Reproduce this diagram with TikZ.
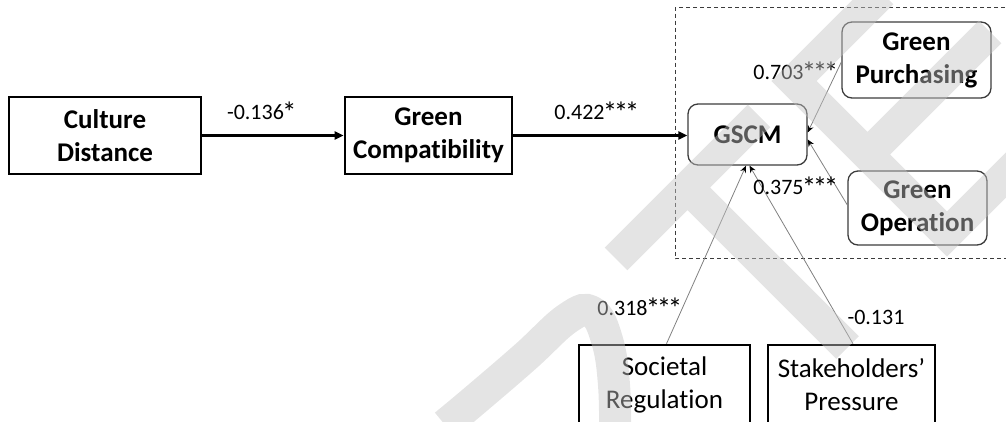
\documentclass[tikz,border=0pt]{standalone}
\usepackage{fontspec}
\setmainfont{Carlito}[Ligatures=NoCommon]
\usetikzlibrary{arrows.meta}
\definecolor{wmark}{RGB}{196,196,196}
\definecolor{rimgray}{RGB}{60,60,60}
\newcommand\boxfont{\fontsize{27}{33}\selectfont}
\newcommand\labfont{\fontsize{22}{26}\selectfont}
% significance star, drawn a little larger than the text asterisk
\newcommand\sig{\makebox[11pt]{\fontsize{29}{29}\selectfont\raisebox{-3pt}{*}}}
\begin{document}
\begin{tikzpicture}[x=1pt,y=-1pt,
  thickbox/.style={draw=black, line width=2.6pt, inner sep=0pt, align=center, font=\boxfont},
  boldbox/.style={thickbox, font=\boxfont\bfseries},
  roundbox/.style={draw=rimgray, line width=1.3pt, rounded corners=10pt, inner sep=0pt,
    align=center, font=\boxfont\bfseries},
  lab/.style={font=\labfont, inner sep=0pt},
  mainarrow/.style={line width=2.6pt, -{Triangle[length=9pt,width=8pt]}},
  thinarrow/.style={draw=black!50, line width=0.8pt, -{Stealth[length=7pt,width=6pt,black]}},
  groupframe/.style={draw=rimgray, line width=0.9pt, dash pattern=on 4pt off 3pt},
  watermark/.style={draw=wmark, draw opacity=0.45, line width=32pt, line cap=butt, line join=miter}]
\useasboundingbox (0,0) rectangle (1006,421);
\clip (0,0) rectangle (1006,421);

% frame around the GSCM construct
\draw[groupframe] (1012,7.5) -- (675,7.5) -- (675,258.5) -- (1012,258.5);

% constructs
\node[boldbox, minimum width=192pt, minimum height=77pt] (cd) at (105,135.5) {Culture\\Distance};
\node[boldbox, minimum width=167pt, minimum height=77pt] (gc) at (428.5,135.5) {Green\\Compatibility};
\node[roundbox, minimum width=119pt, minimum height=61pt] (gscm) at (747.5,134.5) {GSCM};
\node[roundbox, minimum width=149pt, minimum height=76pt] (gp) at (916.5,60) {Green\\Purchasing};
\node[roundbox, minimum width=139pt, minimum height=74pt] (go) at (917.5,208) {Green\\Operation};
\node[thickbox, minimum width=171pt, minimum height=80pt] (sr) at (664.5,385) {Societal\\Regulation};
\node[thickbox, minimum width=167pt, minimum height=80pt] (sp) at (851.5,385) {Stakeholders’\\Pressure};

% paths
\draw[mainarrow] (cd.east) -- (gc.west);
\draw[mainarrow] (gc.east) -- (gc.east -| gscm.west);
\draw[thinarrow] ([yshift=-2pt]gp.west) -- ([yshift=2pt]gscm.east);
\draw[thinarrow] ([yshift=3pt]go.west) -- ([yshift=-5pt]gscm.east);
\draw[thinarrow] ([xshift=2pt]sr.north) -- ([xshift=-1.5pt]gscm.south);
\draw[thinarrow] ([xshift=1.5pt]sp.north) -- ([xshift=2pt]gscm.south);

% path coefficients
\node[lab] (l1) at (261,112) {-0.136\sig};
\node[lab] (l2) at (596,112) {0.422\sig\sig\sig};
\node[lab] (l3) at (795,72) {0.703\sig\sig\sig};
\node[lab] (l4) at (795,187) {0.375\sig\sig\sig};
\node[lab] (l5) at (639,308) {0.318\sig\sig\sig};
\node[lab] (l6) at (876,317) {-0.131};

% large diagonal watermark lettering
\draw[watermark]
  plot[smooth, tension=0.7] coordinates {(445,425) (475,400) (525,357) (568,318) (592,312) (607,340) (614,385) (615,440)}
  (616,259) -- (759,116)
  (687.5,187.5) -- (847.5,347.5)
  (882,-7) -- (794,81) -- (947,234) -- (1060,121)
  (867.5,154.5) -- (990,32);
\end{tikzpicture}
\end{document}
